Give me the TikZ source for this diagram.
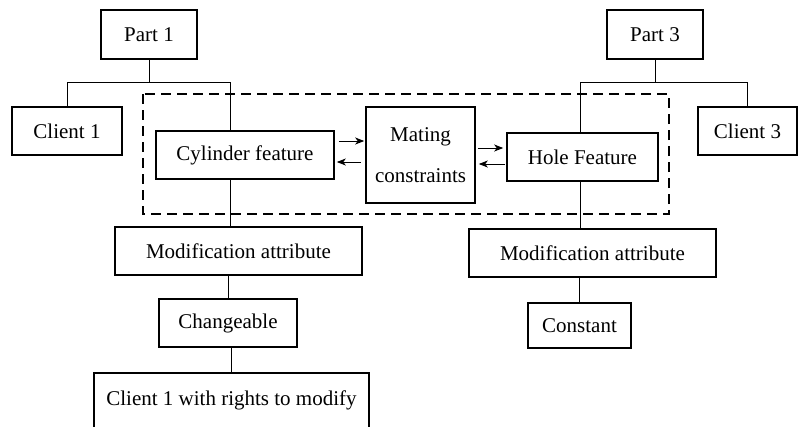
\documentclass[tikz,border=0pt]{standalone}
\usepackage{fontspec}
\setmainfont{Liberation Serif}
\usetikzlibrary{arrows.meta,calc}
\begin{document}
\begin{tikzpicture}[x=1bp,y=-1bp,
  box/.style={draw,line width=1.6bp,inner sep=0pt,font=\fontsize{21bp}{25bp}\selectfont},
  conn/.style={line width=1bp},
  arr/.style={line width=1bp,-{Stealth[length=9bp,width=7bp,inset=2.5bp]}},
  dashbox/.style={draw,line width=2.5bp,dash pattern=on 10bp off 6bp}]
\useasboundingbox (0,0) rectangle (798,426);
% nodes
\node[box,minimum width=96bp,minimum height=49bp] (p1) at (149,34.5) {Part 1};
\node[box,minimum width=110bp,minimum height=48bp] (c1) at (67,131) {Client 1};
\node[box,minimum width=178bp,minimum height=48bp] (cyl) at (245,155) {Cylinder feature};
\node[box,minimum width=109bp,minimum height=96bp,align=center,font=\fontsize{21bp}{41bp}\selectfont] (mat) at (420.5,155) {Mating\\constraints};
\node[box,minimum width=151bp,minimum height=48bp] (hole) at (582.5,157) {Hole Feature};
\node[box,minimum width=96bp,minimum height=49bp] (p3) at (655,34.5) {Part 3};
\node[box,minimum width=99bp,minimum height=48bp] (c3) at (747.5,131) {Client 3};
\node[box,minimum width=247bp,minimum height=48bp] (mod1) at (238.5,251) {Modification attribute};
\node[box,minimum width=138bp,minimum height=48bp] (chg) at (228,323) {Changeable};
\node[box,minimum width=275bp,minimum height=62bp,text depth=12bp,anchor=north] (rights) at (231.5,372) {Client 1 with rights to modify};
\node[box,minimum width=247bp,minimum height=48bp] (mod2) at (592.5,253) {Modification attribute};
\node[box,minimum width=103bp,minimum height=45bp] (con) at (579.5,325.5) {Constant};
% dashed group
\draw[dashbox] (143,94) rectangle (669,214);
% tree connectors left
\coordinate (j1) at (230,82);
\draw[conn] (p1.south) -- (p1.south |- j1);
\draw[conn] (c1.north) |- (j1) -- (j1 |- cyl.north);
\draw[conn] (cyl.south -| j1) -- (j1 |- mod1.north);
\draw[conn] (chg.north) -- (chg.north |- mod1.south);
\draw[conn] (rights.north) -- (rights.north |- chg.south);
% tree connectors right
\coordinate (j3) at (580,82);
\draw[conn] (p3.south) -- (p3.south |- j3);
\draw[conn] (c3.north) |- (j3) -- (j3 |- hole.north);
\draw[conn] (hole.south -| j3) -- (j3 |- mod2.north);
\draw[conn] (con.north) -- (con.north |- mod2.south);
% arrows
\draw[arr] ($(cyl.east)+(4,-14)$) -- ($(mat.west)+(-1,-14)$);
\draw[arr] ($(mat.west)+(-4,7)$) -- ($(cyl.east)+(2,7)$);
\draw[arr] ($(mat.east)+(2,-7)$) -- ($(hole.west)+(-3,-9)$);
\draw[arr] ($(hole.west)+(-1,7)$) -- ($(mat.east)+(3,9)$);
\end{tikzpicture}
\end{document}
